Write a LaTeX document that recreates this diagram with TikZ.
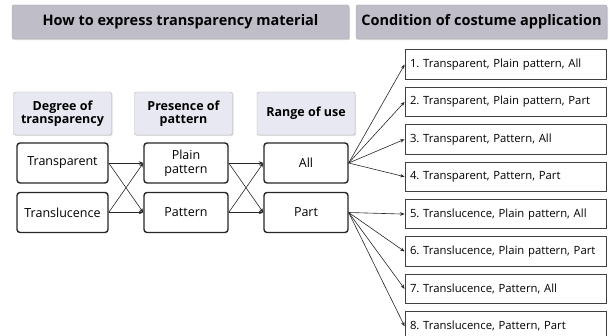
\documentclass[tikz,border=0pt]{standalone}
\usepackage{fontspec}
\setmainfont{Open Sans}
\usepackage{xcolor}
\usetikzlibrary{arrows.meta,positioning,shadows}

\definecolor{headgray}{HTML}{BEBDC8}
\definecolor{catfill}{HTML}{E8E8F2}
\frenchspacing

\begin{document}
\begin{tikzpicture}
  [
  x=1pt,y=-1pt,
  title/.style={rectangle,rounded corners=2pt,draw=gray!70,fill=headgray,
    drop shadow={opacity=0.3,shadow xshift=1pt,shadow yshift=-1.2pt},
    minimum height=34pt,inner sep=0pt,font=\bfseries\fontsize{14.5}{16}\selectfont},
  category/.style={rectangle,rounded corners=2pt,draw=gray!60,fill=catfill,
    drop shadow={opacity=0.25,shadow xshift=1pt,shadow yshift=-1pt},
    minimum width=98pt,minimum height=43pt,inner sep=0pt,align=center,
    font=\bfseries\fontsize{12.5}{13.5}\selectfont},
  choice/.style={rectangle,rounded corners=3pt,draw=black!85,line width=1.4pt,fill=white,
    minimum height=40pt,inner sep=0pt,align=center,font=\fontsize{12.5}{14}\selectfont},
  result/.style={rectangle,draw=black!75,line width=0.8pt,fill=white,minimum width=201pt,
    minimum height=29.5pt,inner xsep=5pt,inner ysep=0pt,text width=191pt,align=left,
    font=\fontsize{11.3}{13}\selectfont},
  link/.style={-{Stealth[length=4.5pt,width=3.5pt]},semithick,black!85}
  ]
  \useasboundingbox (0,0) rectangle (612,336);
  % headings
  \node[title,minimum width=337pt] (how) at (180.5,22) {How to express transparency material};
  \node[title,minimum width=251pt] (condition) at (481.5,22) {Condition of costume application};
  \node[category] (degree) at (62.5,113.5) {Degree of\\transparency};
  \node[category] (presence) at (183.5,113.5) {Presence of\\pattern};
  \node[category] (range) at (306,113.5) {Range of use};
  % choices
  \node[choice,minimum width=91pt] (transparent) at (62.5,163) {Transparent};
  \node[choice,minimum width=91pt] (translucence) at (62.5,212.5) {Translucence};
  \node[choice,minimum width=84pt] (plain) at (186,163) {Plain\\pattern};
  \node[choice,minimum width=84pt] (pattern) at (186,212.5) {Pattern};
  \node[choice,minimum width=84pt] (all) at (306,163) {All};
  \node[choice,minimum width=84pt] (part) at (306,212.5) {Part};
  % combinations
  \node[result] (r1) at (505.5,64.5) {1. Transparent, Plain pattern, All};
  \node[result] (r2) [below = 7.1pt of r1] {2. Transparent, Plain pattern, Part};
  \node[result] (r3) [below = 7.1pt of r2] {3. Transparent, Pattern, All};
  \node[result] (r4) [below = 7.1pt of r3] {4. Transparent, Pattern, Part};
  \node[result] (r5) [below = 7.1pt of r4] {5. Translucence, Plain pattern, All};
  \node[result] (r6) [below = 7.1pt of r5] {6. Translucence, Plain pattern, Part};
  \node[result] (r7) [below = 7.1pt of r6] {7. Translucence, Pattern, All};
  \node[result] (r8) [below = 7.1pt of r7] {8. Translucence, Pattern, Part};
  % links
  \draw[link] (transparent.east) -- (plain.west);
  \draw[link] (transparent.east) -- (pattern.west);
  \draw[link] (translucence.east) -- (pattern.west);
  \draw[link] (translucence.east) -- (plain.west);
  \draw[link] (plain.east) -- (all.west);
  \draw[link] (plain.east) -- (part.west);
  \draw[link] (pattern.east) -- (part.west);
  \draw[link] (pattern.east) -- (all.west);
  \draw[link] (all.east) -- (r1.west);
  \draw[link] (all.east) -- (r2.west);
  \draw[link] (all.east) -- (r3.west);
  \draw[link] (all.east) -- (r4.west);
  \draw[link] (part.east) -- (r5.west);
  \draw[link] (part.east) -- (r6.west);
  \draw[link] (part.east) -- (r7.west);
  \draw[link] (part.east) -- (r8.west);
\end{tikzpicture}
\end{document}
